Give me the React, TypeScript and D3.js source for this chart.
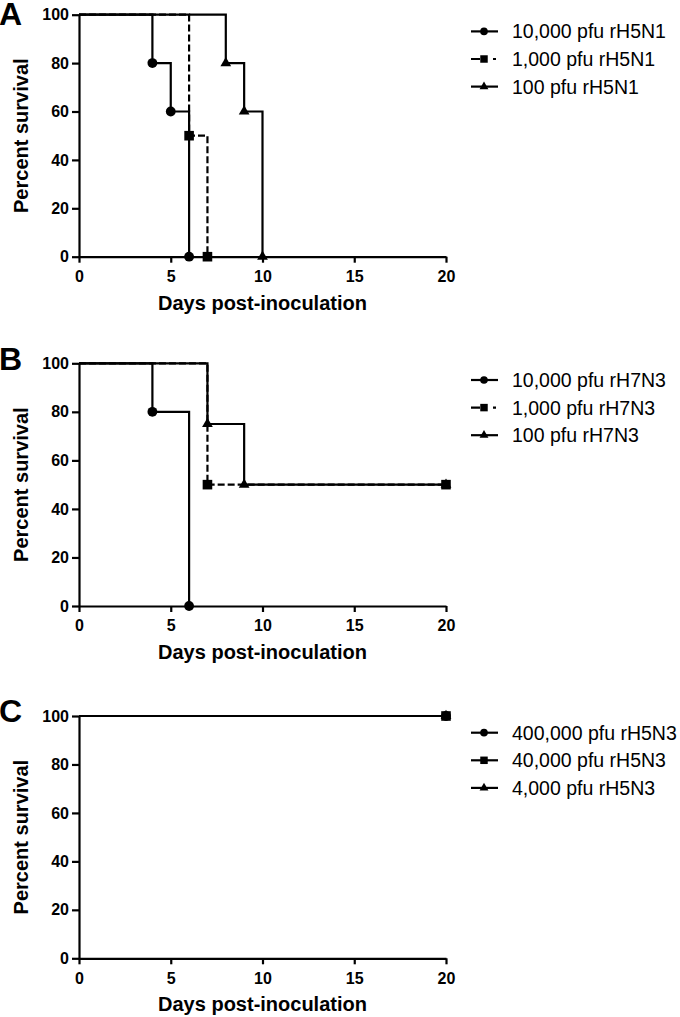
import React, { useRef, useEffect } from 'react';
import * as d3 from 'd3';

// survival data: [day, percent surviving after that day]
const a10000 = [[0, 100], [4, 80], [5, 60], [6, 0]];
const a1000 = [[0, 100], [6, 50], [7, 0]];
const a100 = [[0, 100], [8, 80], [9, 60], [10, 0]];

const b10000 = [[0, 100], [4, 80], [6, 0]];
const b1000 = [[0, 100], [7, 50], [20, 50]];
const b100 = [[0, 100], [7, 75], [9, 50], [20, 50]];

const c400000 = [[0, 100], [20, 100]];
const c40000 = [[0, 100], [20, 100]];
const c4000 = [[0, 100], [20, 100]];

const legendA = ['10,000 pfu rH5N1', '1,000 pfu rH5N1', '100 pfu rH5N1'];
const legendB = ['10,000 pfu rH7N3', '1,000 pfu rH7N3', '100 pfu rH7N3'];
const legendC = ['400,000 pfu rH5N3', '40,000 pfu rH5N3', '4,000 pfu rH5N3'];

const xTicks = [0, 5, 10, 15, 20];
const yTicks = [0, 20, 40, 60, 80, 100];

const FONT = '"Liberation Sans", Arial, sans-serif';

const App = () => {
  const svgRef = useRef(null);

  useEffect(() => {
    const svg = d3.select(svgRef.current);
    svg.selectAll('*').remove();

    const panels = [
      { letter: 'A', letterY: 25, top: 14.7, bottom: 256.7, names: legendA, series: [a10000, a1000, a100], dashed: [false, true, false] },
      { letter: 'B', letterY: 370, top: 363.3, bottom: 606, names: legendB, series: [b10000, b1000, b100], dashed: [false, true, false] },
      { letter: 'C', letterY: 722, top: 716, bottom: 958.3, names: legendC, series: [c400000, c40000, c4000], dashed: [false, false, false] },
    ];

    const symbols = [d3.symbolCircle, d3.symbolSquare, d3.symbolTriangle];
    const markSize = [76, 92, 50];
    const legendSize = [46, 56, 34];

    const x = d3.scaleLinear().domain([0, 20]).range([79, 446]);

    panels.forEach(p => {
      const y = d3.scaleLinear().domain([0, 100]).range([p.bottom, p.top]);
      const g = svg.append('g');

      // panel letter
      g.append('text')
        .attr('x', -1)
        .attr('y', p.letterY)
        .style('font-family', FONT)
        .style('font-weight', 'bold')
        .style('font-size', '32px')
        .text(p.letter);

      // axes
      const yAxis = g.append('g')
        .attr('transform', `translate(${x(0)},0)`)
        .call(d3.axisLeft(y).tickValues(yTicks).tickSize(7).tickSizeOuter(0).tickPadding(3));
      const xAxis = g.append('g')
        .attr('transform', `translate(0,${p.bottom})`)
        .call(d3.axisBottom(x).tickValues(xTicks).tickSize(6).tickSizeOuter(0).tickPadding(8));

      [yAxis, xAxis].forEach(ax => {
        ax.selectAll('path, line').attr('stroke', '#000').attr('stroke-width', 2.2);
        ax.selectAll('text')
          .attr('fill', '#000')
          .style('font-family', FONT)
          .style('font-weight', 'bold')
          .style('font-size', '16px');
      });

      // axis titles
      g.append('text')
        .attr('x', (x(0) + x(20)) / 2)
        .attr('y', p.bottom + 53)
        .attr('text-anchor', 'middle')
        .style('font-family', FONT)
        .style('font-weight', 'bold')
        .style('font-size', '20px')
        .text('Days post-inoculation');

      g.append('text')
        .attr('transform', `translate(28,${(p.top + p.bottom) / 2}) rotate(-90)`)
        .attr('text-anchor', 'middle')
        .style('font-family', FONT)
        .style('font-weight', 'bold')
        .style('font-size', '20px')
        .text('Percent survival');

      // step curves
      const line = d3.line()
        .x(d => x(d[0]))
        .y(d => y(d[1]))
        .curve(d3.curveStepAfter);

      p.series.forEach((s, i) => {
        g.append('path')
          .datum(s)
          .attr('d', line)
          .attr('fill', 'none')
          .attr('stroke', '#000')
          .attr('stroke-width', 2.2)
          .attr('stroke-dasharray', p.dashed[i] ? '7,3' : null);
      });

      // markers at each event (skip day 0)
      p.series.forEach((s, i) => {
        g.selectAll(null)
          .data(s.filter(d => d[0] > 0))
          .enter().append('path')
          .attr('transform', d => `translate(${x(d[0])},${y(d[1])})`)
          .attr('d', d3.symbol().type(symbols[i]).size(markSize[i]))
          .attr('fill', '#000');
      });

      // legend
      p.names.forEach((name, i) => {
        const cy = p.top + 16.7 + i * 27.6;
        g.append('line')
          .attr('x1', 471).attr('x2', 498)
          .attr('y1', cy).attr('y2', cy)
          .attr('stroke', '#000')
          .attr('stroke-width', 2.2)
          .attr('stroke-dasharray', p.dashed[i] ? '9,13,3,20' : null);
        g.append('path')
          .attr('transform', `translate(484,${cy})`)
          .attr('d', d3.symbol().type(symbols[i]).size(legendSize[i]))
          .attr('fill', '#000');
        g.append('text')
          .attr('x', 512)
          .attr('y', cy + 7)
          .style('font-family', FONT)
          .style('font-size', '19.5px')
          .text(name);
      });
    });
  }, []);

  return (
    <svg
      ref={svgRef}
      width={680}
      height={1017}
      style={{ position: 'absolute', left: 0, top: 0, background: '#fff' }}
    />
  );
};

export default App;
